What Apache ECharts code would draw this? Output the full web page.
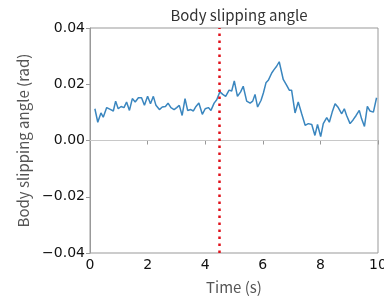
<!DOCTYPE html>
<html><head><meta charset="utf-8">
<script src="https://cdn.jsdelivr.net/npm/echarts@6/dist/echarts.min.js"></script>
<style>html,body{margin:0;padding:0;background:#fff}#c{width:384px;height:297px}</style>
</head><body><div id="c"></div>
<script>
const times = [0.17,0.27,0.38,0.46,0.58,0.72,0.81,0.89,0.98,1.08,1.18,1.27,1.37,1.47,1.57,1.68,1.79,1.89,2.0,2.1,2.2,2.29,2.41,2.51,2.62,2.71,2.81,2.92,3.01,3.1,3.2,3.3,3.39,3.5,3.59,3.68,3.78,3.9,4.0,4.11,4.2,4.31,4.4,4.51,4.61,4.71,4.83,4.92,5.01,5.12,5.23,5.32,5.44,5.56,5.65,5.73,5.82,5.94,6.02,6.11,6.19,6.31,6.39,6.48,6.57,6.63,6.71,6.83,6.92,7.0,7.12,7.23,7.35,7.47,7.58,7.7,7.81,7.9,8.01,8.1,8.22,8.31,8.41,8.51,8.62,8.74,8.83,8.91,9.03,9.14,9.24,9.35,9.43,9.53,9.63,9.72,9.84,9.95];
const angles = [0.0113,0.0065,0.0098,0.0083,0.0117,0.011,0.0105,0.014,0.0113,0.0121,0.0117,0.0137,0.0107,0.0149,0.0137,0.0152,0.0152,0.0125,0.0157,0.0131,0.0157,0.0125,0.011,0.0119,0.0121,0.0133,0.0117,0.011,0.0117,0.0125,0.0089,0.0149,0.0107,0.011,0.0105,0.0121,0.0133,0.0093,0.0113,0.0117,0.0107,0.0133,0.0145,0.0173,0.0164,0.0157,0.0179,0.0176,0.0212,0.0157,0.0173,0.0193,0.014,0.0133,0.014,0.0164,0.0119,0.0143,0.0169,0.0205,0.0214,0.024,0.0252,0.0264,0.028,0.0276,0.0217,0.0196,0.0179,0.0179,0.0098,0.0137,0.0095,0.0054,0.006,0.0057,0.0018,0.0057,0.0014,0.006,0.0081,0.0065,0.0101,0.0131,0.0117,0.0095,0.0113,0.0089,0.006,0.0074,0.0089,0.0107,0.0077,0.005,0.0121,0.0105,0.0101,0.0152];
const eventTime = 4.5;
const xTicks = [0,2,4,6,8,10];
const yTicks = [-0.04,-0.02,0,0.02,0.04];
const titleText = 'Body slipping angle';
const xName = 'Time (s)';
const yName = 'Body slipping angle (rad)';

const nameFont = '"Noto Sans CJK JP","Noto Sans",sans-serif';
const tickFont = '"DejaVu Sans",sans-serif';
const chart = echarts.init(document.getElementById('c'), null, {renderer:'canvas'});
chart.setOption({
  animation:false,
  title:{text:titleText,left:234,textAlign:'center',top:3,textStyle:{fontFamily:nameFont,fontSize:15,fontWeight:'normal',color:'#333'}},
  grid:{left:90,right:6,top:28,bottom:44,containLabel:false,outerBoundsMode:'none',show:true,borderColor:'#999',borderWidth:1},
  xAxis:{type:'value',min:0,max:10,interval:2,name:xName,nameLocation:'middle',nameGap:27,
    nameTextStyle:{fontFamily:nameFont,fontSize:15,color:'#555'},
    axisLine:{show:true,lineStyle:{color:'#999'}},axisTick:{show:true,length:4,lineStyle:{color:'#999'}},
    axisLabel:{fontFamily:tickFont,fontSize:14,color:'#111',margin:5,hideOverlap:false,formatter:v=>String(v)},splitLine:{show:false}},
  yAxis:{type:'value',min:-0.04,max:0.04,interval:0.02,name:yName,nameLocation:'middle',nameGap:56,
    nameTextStyle:{fontFamily:nameFont,fontSize:15,color:'#555'},
    axisLine:{show:true,lineStyle:{color:'#999'}},axisTick:{show:true,length:4,lineStyle:{color:'#999'}},
    axisLabel:{fontFamily:tickFont,fontSize:14,color:'#111',margin:5,formatter:v=>{const s=Math.abs(v).toFixed(2);return (v< -1e-9?'\u2212':'')+s;}},splitLine:{show:false}},
  series:[
    {type:'line',data:times.map((t,i)=>[t,angles[i]]),showSymbol:false,lineStyle:{color:'#3a86bf',width:1.5},z:3,
     markLine:{silent:true,symbol:['none','none'],label:{show:false},
       data:[{yAxis:0,lineStyle:{color:'#c8c8c8',width:1,type:'solid'}},
             {xAxis:eventTime,lineStyle:{color:'#e0101a',width:2.5,type:[2.5,4.5]}}]}}
  ]
});
</script></body></html>
